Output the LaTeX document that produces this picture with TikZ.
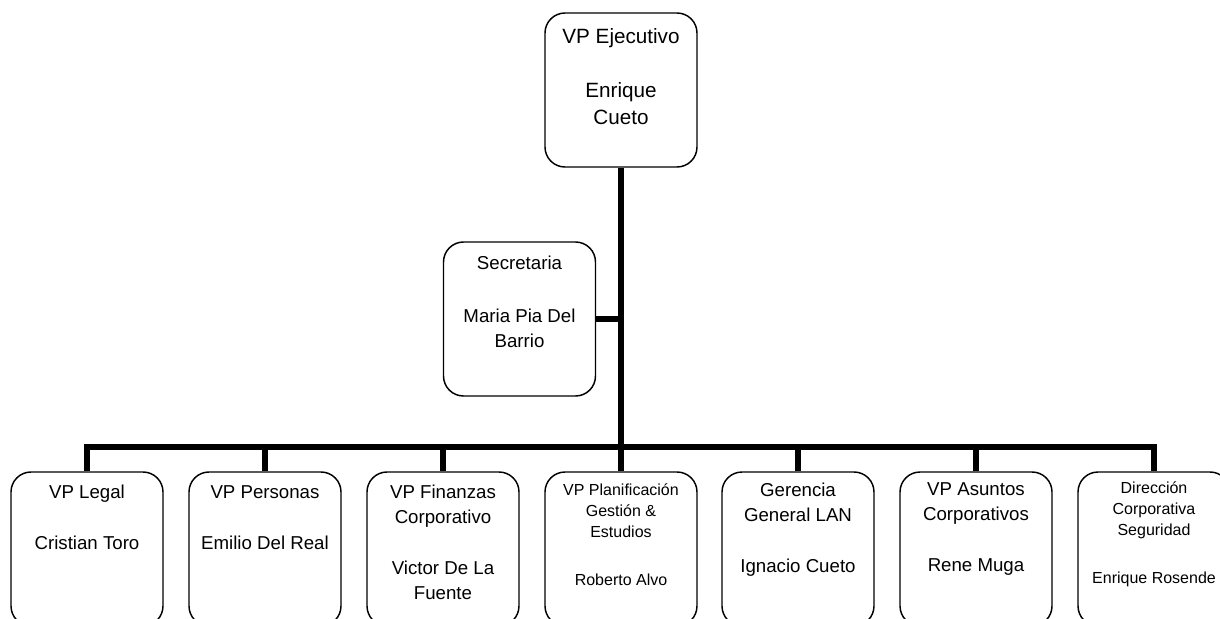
\documentclass[tikz,border=0pt]{standalone}
\usepackage{fontspec}
\setmainfont{Liberation Sans}
\begin{document}
\begin{tikzpicture}[x=0.75pt,y=-0.75pt,
  box/.style={draw=black,line width=1.1pt,rounded corners=15pt,minimum width=114pt,minimum height=115.5pt,inner sep=0pt},
  conn/.style={draw=black,line width=3.9pt},
  txt/.style={align=center,inner sep=0pt,font=\fontsize{14}{18.75}\selectfont},
  txtbig/.style={align=center,inner sep=0pt,font=\fontsize{15.5}{20.25}\selectfont},
  txtsm/.style={align=center,inner sep=0pt,font=\fontsize{12}{15.75}\selectfont}]
\useasboundingbox (0,0) rectangle (1220,618);
% boxes
\node[box] (top) at (621,90) {};
\node[box] (sec) at (519.5,319) {};
\node[box] (b1) at (87,549) {};
\node[box] (b2) at (265,549) {};
\node[box] (b3) at (443,549) {};
\node[box] (b4) at (621,549) {};
\node[box] (b5) at (798,549) {};
\node[box] (b6) at (976,549) {};
\node[box] (b7) at (1154,549) {};
% texts
\node[txtbig] (ttop) at (621,76.5) {VP Ejecutivo\\[20.25pt]Enrique\\Cueto};
\node[txt] (tsec) at (519.5,301.5) {Secretaria\\[21pt]Maria Pia Del\\Barrio};
\node[txt] (t1) at (87,517.5) {VP Legal\\[19.5pt]Cristian Toro};
\node[txt] (t2) at (265,517.5) {VP Personas\\[19.5pt]Emilio Del Real};
\node[txt] (t3) at (443,542) {VP Finanzas\\Corporativo\\[19.5pt]Victor De La\\Fuente};
\node[txtsm] (t4) at (621,535) {VP Planificación\\Gestión \&\\Estudios\\[20.25pt]Roberto Alvo};
\node[txt] (t5) at (798,529.5) {Gerencia\\General LAN\\[19.5pt]Ignacio Cueto};
\node[txt] (t6) at (976,529.5) {VP Asuntos\\Corporativos\\[19.5pt]Rene Muga};
\node[txtsm] (t7) at (1154,534) {Dirección\\Corporativa\\Seguridad\\[20.25pt]Enrique Rosende};
% connectors
\coordinate (bus) at (621,447);
\draw[conn] (top.south) -- (bus);
\draw[conn] (sec.east) -- (sec.east -| top.south);
\draw[conn] (b1.north) -- (b1.north |- bus) -- (b7.north |- bus) -- (b7.north);
\foreach \b in {b2,b3,b4,b5,b6} {\draw[conn] (\b.north) -- (\b.north |- bus);}
\end{tikzpicture}
\end{document}
